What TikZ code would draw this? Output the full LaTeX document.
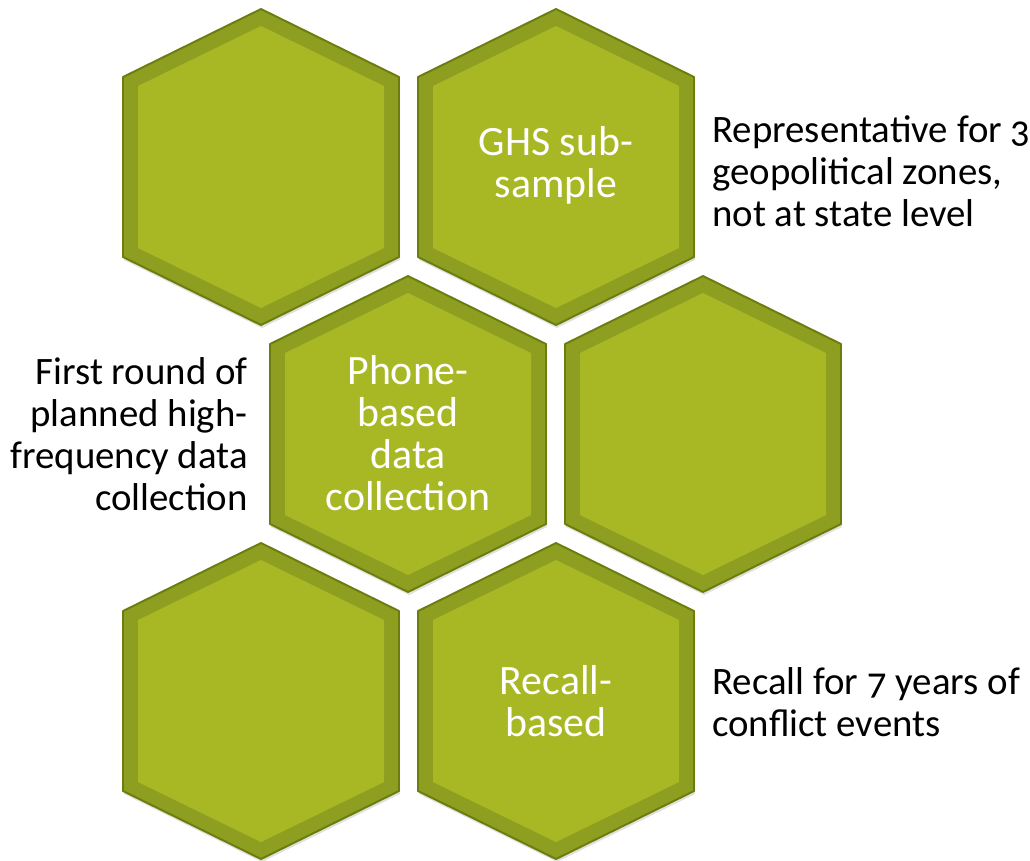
\documentclass[tikz,border=0pt]{standalone}
\usepackage{fontspec}
\setmainfont{Carlito}[Numbers=OldStyle]

\definecolor{hexline}{HTML}{6B7D0C}
\definecolor{hexband}{HTML}{8D9E21}
\definecolor{hexfill}{HTML}{A8B825}

\tikzset{
  celltext/.style={text=white, align=center, inner sep=0pt, font=\fontsize{23.8}{23.8}\selectfont},
  sidetext/.style={text=black, inner sep=0pt, font=\fontsize{22.1}{23.8}\selectfont},
}

\begin{document}
\begin{tikzpicture}[x=0.02cm, y=-0.02cm]
        \useasboundingbox (0,0) rectangle (1030,860);

        % six cells of the honeycomb
        \foreach \cx/\cy in {261/167, 556/167, 408/434, 703/434, 261/701, 556/701}{
            \fill[black, opacity=0.12, shift={(\cx+1,\cy+3)}]
                (0,-158) -- (138,-90) -- (138,90) -- (0,158) -- (-138,90) -- (-138,-90) -- cycle;
            \filldraw[fill=hexband, draw=hexline, line width=1.1pt, line join=round, shift={(\cx,\cy)}]
                (0,-158) -- (138,-90) -- (138,90) -- (0,158) -- (-138,90) -- (-138,-90) -- cycle;
            \fill[hexfill, shift={(\cx,\cy)}]
                (0,-141) -- (123,-81) -- (123,81) -- (0,141) -- (-123,81) -- (-123,-81) -- cycle;
        }

        \node[celltext] (ghs) at (556,165) {GHS sub-\\sample};
        \node[celltext] (phone) at (408,433) {Phone-\\based\\data\\collection};
        \node[celltext] (recall) at (556,701) {Recall-\\based};

        \node[sidetext, anchor=west, align=left] (zones) at (712,171) {Representative for 3\\geopolitical zones,\\not at state level};
        \node[sidetext, anchor=east, align=right] (freq) at (248,434) {First round of\\planned high-\\frequency data\\collection};
        \node[sidetext, anchor=west, align=left] (years) at (712,702) {Recall for 7 years of\\conflict events};
\end{tikzpicture}
\end{document}
